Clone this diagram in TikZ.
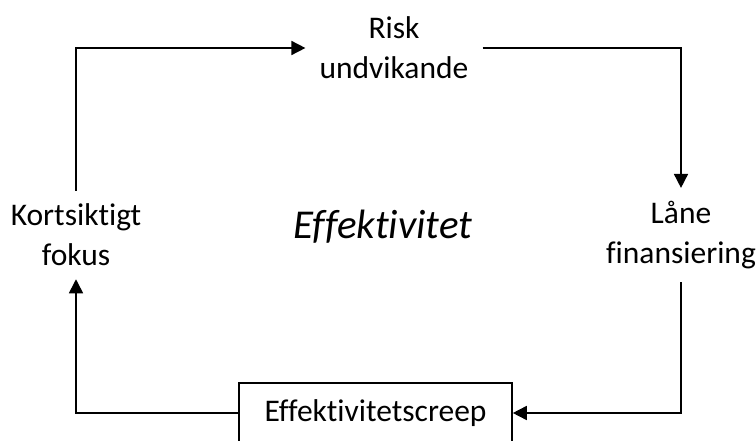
\documentclass[tikz,border=0pt]{standalone}
\usepackage{fontspec}
\setmainfont{Carlito}[Ligatures={NoCommon,NoRequired,NoContextual}]
\usetikzlibrary{arrows.meta}
\begin{document}
\begin{tikzpicture}[x=1pt,y=-1pt,
  lbl/.style={align=center,font=\fontsize{31.5}{40}\selectfont,inner sep=13pt},
  conn/.style={line width=1.6pt,-{Triangle[length=14pt,width=14pt]}},
  plain/.style={line width=1.6pt}]
\clip (0,0) rectangle (756,441);
\useasboundingbox (0,0) rectangle (756,441);
\node[lbl,inner xsep=14pt] (risk) at (394,48) {Risk\\undvikande};
\node[lbl] (lane) at (681,235) {Låne\\finansiering};
\node[lbl] (kort) at (76,235) {Kortsiktigt\\fokus};
\node[font=\fontsize{41}{44}\selectfont\itshape] (eff) at (383,227) {Effektivitet};
\node[draw,line width=1.6pt,minimum width=273pt,minimum height=60pt,font=\fontsize{31.5}{40}\selectfont] (creep) at (375.5,413) {Effektivitetscreep};
\draw[conn] (kort.north) |- (risk.west);
\draw[conn] (risk.east) -| (lane.north);
\draw[conn] (lane.south) |- (creep.east);
\draw[conn] (creep.west) -| (kort.south);
\end{tikzpicture}
\end{document}
